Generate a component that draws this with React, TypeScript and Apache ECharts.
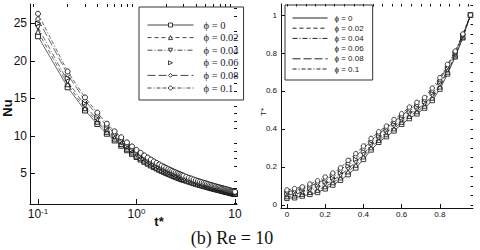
import React, { useEffect, useRef } from 'react';
import * as echarts from 'echarts';

// ---------- data ----------
const phiLabels = ['ϕ = 0', 'ϕ = 0.02', 'ϕ = 0.04', 'ϕ = 0.06', 'ϕ = 0.08', 'ϕ = 0.1'];

// left chart: Nu vs t*
const tStar = [
  0.1, 0.2, 0.3, 0.4, 0.5, 0.6, 0.7, 0.8, 0.9, 1.0,
  1.1, 1.2, 1.3, 1.4, 1.5, 1.6, 1.7, 1.8, 1.9, 2.0,
  2.1, 2.2, 2.3, 2.4, 2.5, 2.6, 2.7, 2.8, 2.9, 3.0,
  3.2, 3.4, 3.6, 3.8, 4.0, 4.2, 4.4, 4.6, 4.8, 5.0,
  5.2, 5.4, 5.6, 5.8, 6.0, 6.2, 6.4, 6.6, 6.8, 7.0,
  7.2, 7.4, 7.6, 7.8, 8.0, 8.2, 8.4, 8.6, 8.8, 9.0,
  9.2, 9.4, 9.6, 9.8, 10.0,
];
const nuPhi0 = [
  23.3, 16.5, 13.4, 11.6, 10.3, 9.4, 8.7, 8.1, 7.62, 7.2,
  6.86, 6.56, 6.3, 6.07, 5.86, 5.67, 5.5, 5.35, 5.21, 5.08,
  4.96, 4.85, 4.74, 4.64, 4.55, 4.46, 4.38, 4.3, 4.23, 4.16,
  4.04, 3.92, 3.82, 3.72, 3.63, 3.55, 3.47, 3.4, 3.33, 3.27,
  3.21, 3.15, 3.09, 3.04, 2.99, 2.94, 2.9, 2.85, 2.81, 2.77,
  2.73, 2.69, 2.65, 2.61, 2.58, 2.54, 2.51, 2.48, 2.44, 2.41,
  2.38, 2.35, 2.32, 2.29, 2.26,
];
const nuPhi002 = [
  23.9, 16.9, 13.7, 11.9, 10.56, 9.64, 8.92, 8.3, 7.81, 7.38,
  7.03, 6.72, 6.46, 6.22, 6.01, 5.81, 5.64, 5.48, 5.34, 5.21,
  5.08, 4.97, 4.86, 4.76, 4.66, 4.57, 4.49, 4.41, 4.34, 4.26,
  4.14, 4.02, 3.92, 3.81, 3.72, 3.64, 3.56, 3.49, 3.41, 3.35,
  3.29, 3.23, 3.17, 3.12, 3.06, 3.01, 2.97, 2.92, 2.88, 2.84,
  2.8, 2.76, 2.72, 2.68, 2.64, 2.6, 2.57, 2.54, 2.5, 2.47,
  2.44, 2.41, 2.38, 2.35, 2.32,
];
const nuPhi004 = [
  24.5, 17.3, 14.07, 12.18, 10.82, 9.87, 9.14, 8.51, 8.0, 7.56,
  7.2, 6.89, 6.62, 6.37, 6.15, 5.95, 5.78, 5.62, 5.47, 5.33,
  5.21, 5.09, 4.98, 4.87, 4.78, 4.68, 4.6, 4.52, 4.44, 4.37,
  4.24, 4.12, 4.01, 3.91, 3.81, 3.73, 3.64, 3.57, 3.5, 3.43,
  3.37, 3.31, 3.24, 3.19, 3.14, 3.09, 3.05, 2.99, 2.95, 2.91,
  2.87, 2.82, 2.78, 2.74, 2.71, 2.67, 2.64, 2.6, 2.56, 2.53,
  2.5, 2.47, 2.44, 2.4, 2.37,
];
const nuPhi006 = [
  25.0, 17.7, 14.41, 12.47, 11.07, 10.11, 9.35, 8.71, 8.19, 7.74,
  7.37, 7.05, 6.77, 6.53, 6.3, 6.1, 5.91, 5.75, 5.6, 5.46,
  5.33, 5.21, 5.1, 4.99, 4.89, 4.79, 4.71, 4.62, 4.55, 4.47,
  4.34, 4.21, 4.11, 4.0, 3.9, 3.82, 3.73, 3.66, 3.58, 3.52,
  3.45, 3.39, 3.32, 3.27, 3.21, 3.16, 3.12, 3.06, 3.02, 2.98,
  2.93, 2.89, 2.85, 2.81, 2.77, 2.73, 2.7, 2.67, 2.62, 2.59,
  2.56, 2.53, 2.49, 2.46, 2.43,
];
const nuPhi008 = [
  25.6, 18.2, 14.74, 12.76, 11.33, 10.34, 9.57, 8.91, 8.38, 7.92,
  7.55, 7.22, 6.93, 6.68, 6.45, 6.24, 6.05, 5.89, 5.73, 5.59,
  5.46, 5.34, 5.21, 5.1, 5.01, 4.91, 4.82, 4.73, 4.65, 4.58,
  4.44, 4.31, 4.2, 4.09, 3.99, 3.91, 3.82, 3.74, 3.66, 3.6,
  3.53, 3.47, 3.4, 3.34, 3.29, 3.23, 3.19, 3.14, 3.09, 3.05,
  3.0, 2.96, 2.92, 2.87, 2.84, 2.79, 2.76, 2.73, 2.68, 2.65,
  2.62, 2.59, 2.55, 2.52, 2.49,
];
const nuPhi01 = [
  26.3, 18.6, 15.14, 13.11, 11.64, 10.62, 9.83, 9.15, 8.61, 8.14,
  7.75, 7.41, 7.12, 6.86, 6.62, 6.41, 6.22, 6.05, 5.89, 5.74,
  5.6, 5.48, 5.36, 5.24, 5.14, 5.04, 4.95, 4.86, 4.78, 4.7,
  4.57, 4.43, 4.32, 4.2, 4.1, 4.01, 3.92, 3.84, 3.76, 3.7,
  3.63, 3.56, 3.49, 3.44, 3.38, 3.32, 3.28, 3.22, 3.18, 3.13,
  3.08, 3.04, 2.99, 2.95, 2.92, 2.87, 2.84, 2.8, 2.76, 2.72,
  2.69, 2.66, 2.62, 2.59, 2.55,
];

// right chart: T* vs x
const xPos = [
  0, 0.04, 0.08, 0.12, 0.16, 0.2, 0.24, 0.28, 0.32, 0.36,
  0.4, 0.44, 0.48, 0.52, 0.56, 0.6, 0.64, 0.68, 0.72, 0.76,
  0.8, 0.84, 0.88, 0.92, 0.96,
];
const tPhi0 = [
  0.035, 0.038, 0.047, 0.056, 0.066, 0.085, 0.105, 0.13, 0.16, 0.195,
  0.24, 0.29, 0.33, 0.36, 0.39, 0.425, 0.455, 0.48, 0.51, 0.55,
  0.61, 0.69, 0.78, 0.88, 1.0,
];
const tPhi002 = [
  0.044, 0.048, 0.057, 0.067, 0.078, 0.097, 0.118, 0.143, 0.175, 0.21,
  0.254, 0.302, 0.341, 0.371, 0.402, 0.436, 0.467, 0.492, 0.521, 0.563,
  0.622, 0.70, 0.786, 0.884, 1.0,
];
const tPhi004 = [
  0.053, 0.057, 0.066, 0.078, 0.09, 0.11, 0.13, 0.156, 0.19, 0.225,
  0.268, 0.314, 0.352, 0.382, 0.414, 0.447, 0.479, 0.504, 0.532, 0.576,
  0.634, 0.71, 0.792, 0.888, 1.0,
];
const tPhi006 = [
  0.061, 0.067, 0.076, 0.089, 0.103, 0.122, 0.143, 0.169, 0.205, 0.24,
  0.282, 0.326, 0.363, 0.393, 0.426, 0.458, 0.491, 0.516, 0.543, 0.589,
  0.646, 0.72, 0.798, 0.892, 1.0,
];
const tPhi008 = [
  0.07, 0.076, 0.085, 0.099, 0.115, 0.135, 0.155, 0.182, 0.22, 0.255,
  0.296, 0.338, 0.374, 0.404, 0.438, 0.469, 0.503, 0.528, 0.554, 0.602,
  0.658, 0.73, 0.804, 0.896, 1.0,
];
const tPhi01 = [
  0.079, 0.086, 0.095, 0.11, 0.127, 0.147, 0.168, 0.195, 0.235, 0.27,
  0.31, 0.35, 0.385, 0.415, 0.45, 0.48, 0.515, 0.54, 0.565, 0.615,
  0.67, 0.74, 0.81, 0.9, 1.0,
];

// tick labels
const nuTicks = [5, 10, 15, 20, 25];
const tTicks = [0.1, 1, 10];
const xTicks = [0, 0.2, 0.4, 0.6, 0.8];
const TTicks = [0, 0.2, 0.4, 0.6, 0.8, 1];

const nuSeries = [nuPhi0, nuPhi002, nuPhi004, nuPhi006, nuPhi008, nuPhi01];
const tSeries = [tPhi0, tPhi002, tPhi004, tPhi006, tPhi008, tPhi01];

// ---------- styles ----------
const symbols = ['rect', 'triangle', 'triangle', 'triangle', 'diamond', 'circle'];
const symbolRotates = [0, 0, 180, -90, 0, 0];
const dashes: any[] = ['solid', [4, 3], [5, 2, 1, 2], 'solid', [8, 3], [4, 2, 1, 2, 4, 2]];
const lineOpacity = [1, 1, 1, 0, 1, 1];

const SANS = '"Liberation Sans", Arial, sans-serif';
const SERIF = '"Liberation Serif", "Times New Roman", serif';

export default function App() {
  const ref = useRef<HTMLDivElement>(null);

  useEffect(() => {
    if (!ref.current) return;
    const chart = echarts.init(ref.current, undefined, { renderer: 'svg' });

    const leftMinorX: number[] = [];
    [0.01, 0.1, 1].forEach((d) => {
      for (let k = 2; k <= 9; k++) leftMinorX.push(Math.log10(k * d));
    });
    const leftMinorY: number[] = [];
    for (let v = 1; v <= 27; v++) if (v % 5 !== 0) leftMinorY.push(v);
    const rightMinorX: number[] = [];
    for (let i = 0; i <= 19; i++) rightMinorX.push(+(i * 0.05).toFixed(2));
    const rightMinorY: number[] = [];
    for (let i = 0; i <= 21; i++) rightMinorY.push(+(i * 0.05).toFixed(2));

    const axisLineStyle = { color: '#111', width: 1 };

    const series: any[] = [];
    phiLabels.forEach((lab, i) => {
      series.push({
        type: 'line',
        name: 'L|' + lab,
        xAxisIndex: 0,
        yAxisIndex: 0,
        data: tStar.map((t, j) => [Math.log10(t), nuSeries[i][j]]),
        symbol: symbols[i],
        symbolRotate: symbolRotates[i],
        symbolSize: 5,
        showAllSymbol: true,
        lineStyle: { color: '#444', width: 0.8, type: dashes[i], opacity: lineOpacity[i] },
        itemStyle: { color: '#fff', borderColor: '#111', borderWidth: 0.9 },
        z: 3 + i,
      });
    });
    phiLabels.forEach((lab, i) => {
      series.push({
        type: 'line',
        name: 'R|' + lab,
        xAxisIndex: 2,
        yAxisIndex: 2,
        data: xPos.map((x, j) => [x, tSeries[i][j]]),
        symbol: symbols[i],
        symbolRotate: symbolRotates[i],
        symbolSize: 4.5,
        showAllSymbol: true,
        lineStyle: { color: '#222', width: 0.8, type: dashes[i], opacity: lineOpacity[i] },
        itemStyle: { color: '#fff', borderColor: '#111', borderWidth: 0.8 },
        z: 3 + i,
      });
    });

    const tickLabelLog = tTicks.map((t) => Math.log10(t));
    const noZero = { onZero: false, lineStyle: axisLineStyle };

    const option: any = {
      animation: false,
      backgroundColor: '#fff',
      grid: [
        { left: 30, top: 4, width: 207, height: 200 },
        { left: 281, top: 4, width: 192, height: 204 },
      ],
      xAxis: [
        {
          type: 'value', gridIndex: 0, min: -1.081, max: 1.02,
          axisLine: noZero,
          splitLine: { show: false },
          axisTick: { inside: true, length: 5, customValues: tickLabelLog, lineStyle: axisLineStyle },
          axisLabel: {
            customValues: tickLabelLog,
            margin: 3,
            formatter: (v: number) => {
              if (Math.abs(v + 1) < 1e-6) return '{b|10}{s|-1}';
              if (Math.abs(v) < 1e-6) return '{b|10}{s|0}';
              return '{b|10}';
            },
            rich: {
              b: { fontSize: 12, lineHeight: 14, fontFamily: SANS, color: '#111' },
              s: { fontSize: 8, lineHeight: 8, verticalAlign: 'top', fontFamily: SANS, color: '#111' },
            },
          },
        },
        {
          type: 'value', gridIndex: 0, min: -1.081, max: 1.02,
          axisLine: { show: false, onZero: false },
          splitLine: { show: false },
          axisTick: { inside: true, length: 3, customValues: leftMinorX, lineStyle: axisLineStyle },
          axisLabel: { show: false },
        },
        {
          type: 'value', gridIndex: 1, min: -0.031, max: 0.973,
          axisLine: noZero,
          splitLine: { show: false },
          axisTick: { inside: true, length: 4, customValues: xTicks, lineStyle: axisLineStyle },
          axisLabel: { customValues: xTicks, margin: 2, fontSize: 8, fontFamily: SANS, color: '#111' },
        },
        {
          type: 'value', gridIndex: 1, min: -0.031, max: 0.973,
          axisLine: { show: false, onZero: false },
          splitLine: { show: false },
          axisTick: { inside: true, length: 2.5, customValues: rightMinorX, lineStyle: axisLineStyle },
          axisLabel: { show: false },
        },
      ],
      yAxis: [
        {
          type: 'value', gridIndex: 0, min: 0.93, max: 27.6,
          axisLine: { show: true, ...noZero },
          splitLine: { show: false },
          axisTick: { show: true, inside: true, length: 5, customValues: nuTicks, lineStyle: axisLineStyle },
          axisLabel: { customValues: nuTicks, margin: 3, fontSize: 12, fontFamily: SANS, color: '#111' },
        },
        {
          type: 'value', gridIndex: 0, min: 0.93, max: 27.6,
          axisLine: { show: false, onZero: false },
          splitLine: { show: false },
          axisTick: { show: true, inside: true, length: 3, customValues: leftMinorY, lineStyle: axisLineStyle },
          axisLabel: { show: false },
        },
        {
          type: 'value', gridIndex: 1, min: -0.016, max: 1.058,
          axisLine: { show: true, ...noZero },
          splitLine: { show: false },
          axisTick: { show: true, inside: true, length: 4, customValues: TTicks, lineStyle: axisLineStyle },
          axisLabel: { customValues: TTicks, margin: 4, fontSize: 8, fontFamily: SANS, color: '#111' },
        },
        {
          type: 'value', gridIndex: 1, min: -0.016, max: 1.058,
          axisLine: { show: false, onZero: false },
          splitLine: { show: false },
          axisTick: { show: true, inside: true, length: 2.5, customValues: rightMinorY, lineStyle: axisLineStyle },
          axisLabel: { show: false },
        },
      ],
      legend: [
        {
          orient: 'vertical',
          left: 139,
          top: 7,
          padding: [12, 5, 6, 8],
          itemGap: 0.6,
          itemWidth: 46,
          itemHeight: 5,
          selectedMode: false,
          borderColor: '#333',
          borderWidth: 1,
          data: phiLabels.map((l) => 'L|' + l),
          formatter: (n: string) => n.split('|')[1],
          lineStyle: { width: 1 },
          itemStyle: { borderWidth: 0.8 },
          textStyle: { fontFamily: SERIF, fontSize: 10.5, lineHeight: 12, color: '#1a1a33', padding: [0, 0, 0, 5] },
        },
        {
          orient: 'vertical',
          left: 285,
          top: 5,
          padding: [8, 9, 6, 7],
          itemGap: 0.2,
          itemWidth: 35,
          itemHeight: 6,
          selectedMode: false,
          borderColor: '#333',
          borderWidth: 1,
          data: phiLabels.map((l) => 'R|' + l),
          formatter: (n: string) => n.split('|')[1],
          lineStyle: { width: 1 },
          itemStyle: { opacity: 0 },
          textStyle: { fontFamily: SANS, fontSize: 8, lineHeight: 10, color: '#222', padding: [0, 0, 0, 2] },
        },
      ],
      graphic: [
        {
          type: 'text', x: 7, y: 108, rotation: Math.PI / 2,
          style: { text: 'Nu', font: 'bold 13px ' + SANS, fill: '#111', textAlign: 'center', textVerticalAlign: 'middle', align: 'center', verticalAlign: 'middle' },
        },
        {
          type: 'text', x: 159, y: 221,
          style: { text: 't*', font: 'bold 13px ' + SANS, fill: '#111', textAlign: 'center', textVerticalAlign: 'middle', align: 'center', verticalAlign: 'middle' },
        },
        {
          type: 'text', x: 263, y: 112, rotation: Math.PI / 2,
          style: { text: 'T*', font: '8px ' + SANS, fill: '#111', textAlign: 'center', textVerticalAlign: 'middle', align: 'center', verticalAlign: 'middle' },
        },
        {
          type: 'text', x: 232, y: 238,
          style: { text: '(b) Re = 10', font: '18px ' + SERIF, fill: '#111', textAlign: 'center', textVerticalAlign: 'middle', align: 'center', verticalAlign: 'middle' },
        },
      ],
      series,
    };

    chart.setOption(option);
    return () => chart.dispose();
  }, []);

  return (
    <div
      ref={ref}
      style={{ position: 'fixed', left: 0, top: 0, width: 480, height: 250, background: '#fff' }}
    />
  );
}
